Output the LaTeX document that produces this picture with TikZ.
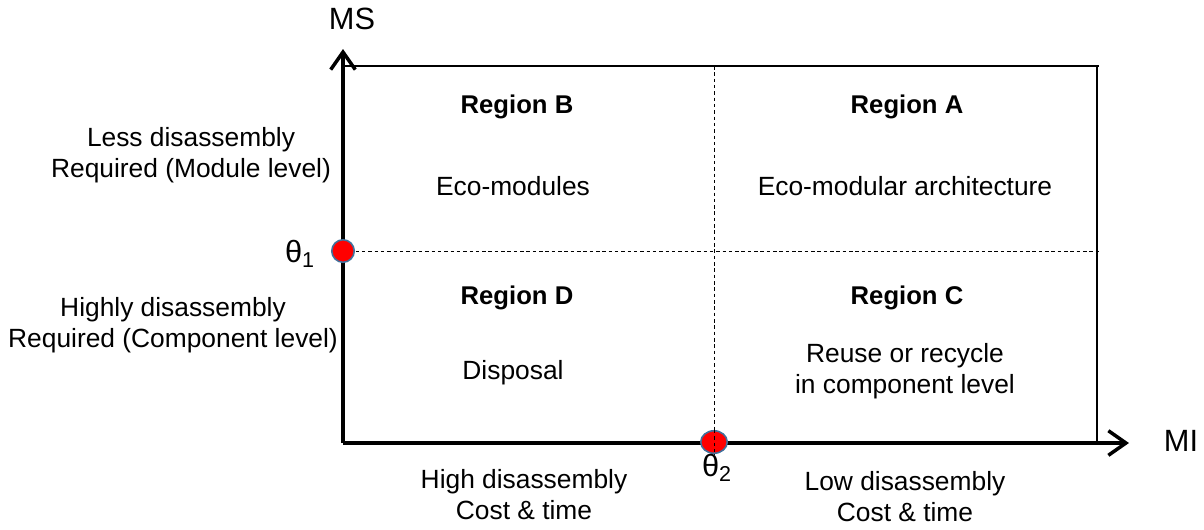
\documentclass[tikz,border=0pt]{standalone}
\usepackage{fontspec}
\setmainfont{Liberation Sans}
\usetikzlibrary{arrows.meta,shapes.geometric}
\definecolor{dotedge}{HTML}{41719C}
\begin{document}
\begin{tikzpicture}[x=0.02cm,y=-0.02cm,
  lbl/.style={font=\fontsize{15}{17.6}\selectfont, align=center, inner sep=0pt},
  big/.style={font=\fontsize{17.5}{21}\selectfont, align=center, inner sep=0pt},
  head/.style={lbl, font=\fontsize{14.6}{17.6}\selectfont\bfseries},
  axis/.style={line width=2.3pt, -{Straight Barb[length=10pt,width=14pt,line width=2pt]}},
  frame/.style={line width=1.6pt},
  split/.style={line width=0.5pt, dash pattern=on 2pt off 1.6pt},
  threshold/.style={fill=red, draw=dotedge, line width=0.9pt}]
\useasboundingbox (0,0) rectangle (1204,529);

% axes and outer frame
\coordinate (O) at (343,443);
\coordinate (ytip) at (343,49);
\coordinate (xtip) at (1129,443);
\coordinate (TL) at (343,66);
\coordinate (TR) at (1099,66);
\coordinate (BR) at (1097,443);
\coordinate (TRc) at (1097,66);

% quadrant split lines
\coordinate (hL) at (343,251);
\coordinate (hR) at (1099,251);
\coordinate (vT) at (714,66);
\coordinate (vB) at (714,456);
\draw[split] (hL) -- (hR);
\draw[split] (vT) -- (vB);

\draw[frame] (TL) -- (TR);
\draw[frame] (TRc) -- (BR);
\draw[axis] (O) -- (ytip);
\draw[axis] (O) -- (xtip);

% threshold markers
\node[threshold, circle, inner sep=0pt, minimum size=0.45cm] (t1) at (343,251) {};
\node[threshold, ellipse, inner sep=0pt, minimum width=0.53cm, minimum height=0.45cm] (t2) at (714,442) {};
\draw[split] (t2.north) -- (t2.south);

% axis names and threshold labels
\node[big] (ms) at (352,19) {MS};
\node[big] (mi) at (1181,441) {MI};
\node[big] (th1) at (300,254) {θ\textsubscript{1}};
\node[big] (th2) at (717,468) {θ\textsubscript{2}};

% quadrant headings and contents
\node[head] (rb) at (517,107) {Region B};
\node[head] (ra) at (907,107) {Region A};
\node[head] (rd) at (517,298) {Region D};
\node[head] (rc) at (907,298) {Region C};
\node[lbl] (eb) at (513,186) {Eco-modules};
\node[lbl] (ea) at (905,186) {Eco-modular architecture};
\node[lbl] (ed) at (513,373) {Disposal};
\node[lbl] (ec) at (905,371) {Reuse or recycle\\in component level};

% level descriptions along MS
\node[lbl] (lm) at (191,155) {Less disassembly\\Required (Module level)};
\node[lbl] (lc) at (173,325) {Highly disassembly\\Required (Component level)};

% cost descriptions along MI
\node[lbl] (hc) at (524,495) {High disassembly\\Cost \& time};
\node[lbl] (lo) at (905,497) {Low disassembly\\Cost \& time};
\end{tikzpicture}
\end{document}
